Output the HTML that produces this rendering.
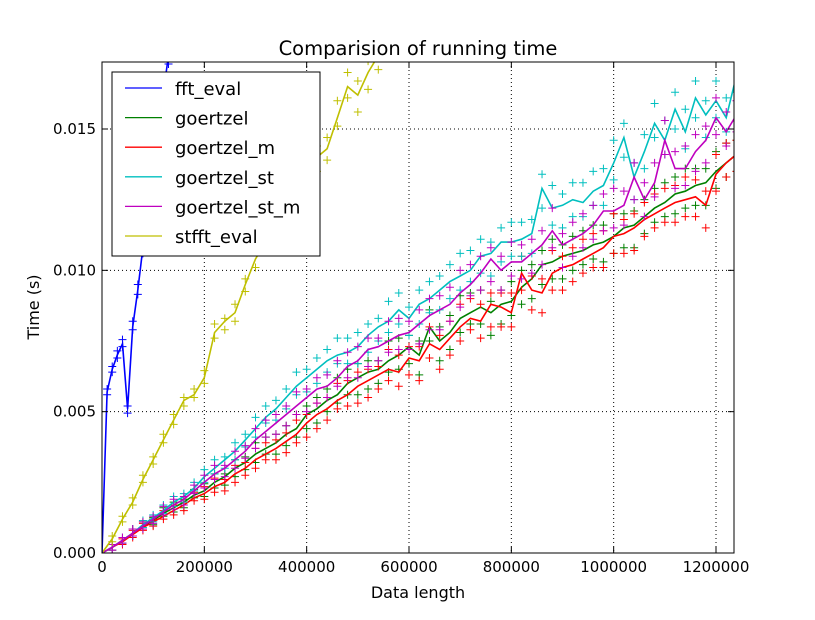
<!DOCTYPE html>
<html><head><meta charset="utf-8"><style>
body{margin:0;background:#fff;}
svg text{font-family:"DejaVu Sans","Liberation Sans",sans-serif;}
</style></head><body>
<svg id="chart" width="815" height="615" xmlns="http://www.w3.org/2000/svg">
<rect width="815" height="615" fill="#fff"/>
<g id="grid"></g>
<defs><clipPath id="clip"><rect x="102" y="62" width="632" height="491"/></clipPath></defs>
<g id="marks" clip-path="url(#clip)"></g>
<rect x="102" y="62" width="632" height="491" fill="none" stroke="#000" stroke-width="1"/>
<g id="axes"></g>
<text x="418" y="55" text-anchor="middle" font-size="19.5">Comparision of running time</text>
<text x="418" y="598" text-anchor="middle" font-size="16">Data length</text>
<text x="39" y="307" text-anchor="middle" font-size="16" transform="rotate(-90 39 307)">Time (s)</text>
<g id="legend"></g>
</svg>
<script>
const xTicks=[0,200000,400000,600000,800000,1000000,1200000];
const yTicks=[0,0.005,0.010,0.015];
const yTickLabels=["0.000","0.005","0.010","0.015"];
// goertzel family x positions in thousands
const xsK=[0,20,40,60,80,100,120,140,160,180,200,220,240,260,280,300,320,340,360,380,400,420,440,460,480,500,520,540,560,580,600,620,640,660,680,700,720,740,760,780,800,820,840,860,880,900,920,940,960,980,1000,1020,1040,1060,1080,1100,1120,1140,1160,1180,1200,1220,1240];
// values in ms
const goertzel=[0,.2,.45,.7,.95,1.15,1.4,1.6,1.8,2.05,2.2,2.5,2.7,3.0,3.2,3.5,3.7,3.9,4.2,4.4,4.9,5.1,5.4,5.6,6.0,6.2,6.4,6.5,6.8,7.0,7.3,7.0,8.0,7.5,7.8,8.3,8.5,8.7,8.5,8.8,8.9,9.4,9.7,10.2,10.3,10.5,10.6,10.7,10.9,11.0,11.2,11.5,11.6,11.9,12.2,12.4,12.7,12.8,13.0,13.1,13.5,13.8,14.1];
const goertzelM=[0,.2,.4,.65,.9,1.1,1.3,1.5,1.7,1.95,2.1,2.35,2.5,2.8,3.0,3.3,3.5,3.7,3.95,4.2,4.6,4.9,5.1,5.4,5.6,5.9,6.1,6.3,6.5,6.4,6.9,6.8,7.4,7.2,7.6,8.0,8.3,8.2,8.8,8.7,8.5,9.9,9.3,9.2,9.9,10.1,10.2,10.4,10.6,10.8,11.2,11.3,11.5,11.8,12.0,12.2,12.4,12.5,12.6,12.3,13.4,13.8,14.1];
const goertzelSt=[0,.2,.45,.7,1.0,1.25,1.5,1.8,2.0,2.3,2.7,3.0,3.3,3.6,4.0,4.4,4.8,5.1,5.5,5.9,6.2,6.5,6.8,7.0,7.1,7.3,7.7,8.0,8.2,8.6,8.3,8.8,9.0,9.3,9.6,9.8,10.0,10.5,10.6,11.0,11.0,11.1,11.3,12.9,12.2,12.3,12.5,12.4,12.8,13.0,13.8,14.7,13.3,14.2,15.2,14.6,15.7,14.9,16.1,15.5,16.0,15.4,16.9];
const goertzelStM=[0,.2,.45,.7,.95,1.2,1.45,1.7,1.9,2.2,2.5,2.8,3.0,3.3,3.6,4.0,4.3,4.6,4.9,5.2,5.5,5.8,5.9,6.2,6.6,6.8,7.2,7.3,7.5,7.7,7.8,8.1,8.4,8.6,8.8,9.2,9.5,9.9,10.4,10.0,10.3,10.3,10.6,10.9,11.4,10.9,11.1,11.3,11.6,12.1,12.1,12.3,13.3,12.5,13.1,14.6,13.6,13.6,14.2,14.6,15.4,14.9,15.5];
const jitterA=[0,.1,-.1,.15,-.1,.1,.2,-.15,.1,.2,-.2,.3,.1,-.3,.2,.4,-.2,.3,-.4,.5,.3,-.5,.4,.6,-.4,.5,-.6,.3,.7,-.5,.4,-.7,.6,.5,-.6,.8,-.4,.6,-.8,.5,.7,-.6,.5,-.7,.8,.4,-.6,.7,-.5,.6,.8,-.7,.5,-.6,.7,-.5,.6,.8,-.7,.5,-.6,.7,.5];
const jitterB=[0,-.1,.1,-.1,.15,-.15,-.1,.2,-.2,-.1,.25,-.2,-.3,.3,-.25,-.3,.4,-.4,.3,-.3,-.5,.4,-.4,-.3,.5,-.6,.4,-.5,-.4,.6,-.6,.5,-.5,-.7,.6,-.5,.7,-.6,.4,-.7,-.5,.6,-.7,.5,-.6,-.8,.6,-.5,.7,-.7,-.6,.5,-.8,.6,-.5,.7,-.7,-.6,.6,-.8,.7,-.5,-.6];
const fftXK=[0,10,20,30,40,50,60,70,80,90,100,110,120,130,140];
const fftEval=[0,5.7,6.5,7.0,7.4,5.1,8.0,9.3,10.8,12.0,13.5,15.0,16.3,17.6,19.0];
const stfftXK=[0,20,40,60,80,100,120,140,160,180,200,220,240,260,280,300,320,340,360,380,400,420,440,460,480,500,520,540,560];
const stfftEval=[0,.5,1.2,1.8,2.6,3.3,4.0,4.7,5.4,5.6,6.2,7.8,8.2,8.5,9.5,10.4,11.0,11.8,12.4,13.0,13.5,14.0,14.3,15.4,16.5,16.2,17.0,17.6,18.2];
const seriesNames=["fft_eval","goertzel","goertzel_m","goertzel_st","goertzel_st_m","stfft_eval"];
const seriesColors=["#0000ff","#008000","#ff0000","#00bfbf","#bf00bf","#bfbf00"];

const X=v=>102+v*614/1200000;
const Y=v=>553-v*(553-129)/0.015;
const NS="http://www.w3.org/2000/svg";
function mk(tag,attrs,parent){const e=document.createElementNS(NS,tag);for(const k in attrs)e.setAttribute(k,attrs[k]);parent.appendChild(e);return e;}
const grid=document.getElementById('grid'),axes=document.getElementById('axes'),marks=document.getElementById('marks'),legend=document.getElementById('legend');
xTicks.forEach((t,i)=>{const x=X(t);
 const g=mk('line',{x1:x,x2:x,y1:62,y2:553,stroke:'#000','stroke-dasharray':'1,3','stroke-width':1},grid);
 
 
 mk('line',{x1:x,x2:x,y1:553,y2:547,stroke:'#000'},axes);
 mk('line',{x1:x,x2:x,y1:62,y2:68,stroke:'#000'},axes);
 const tx=mk('text',{x:x,y:572,'text-anchor':'middle','font-size':15},axes);tx.textContent=t;
 
 
});
yTicks.forEach((t,i)=>{const y=Y(t);
 const g=mk('line',{x1:102,x2:734,y1:y,y2:y,stroke:'#000','stroke-dasharray':'1,3','stroke-width':1},grid);
 
 
 mk('line',{x1:102,x2:108,y1:y,y2:y,stroke:'#000'},axes);
 mk('line',{x1:728,x2:734,y1:y,y2:y,stroke:'#000'},axes);
 const tx=mk('text',{x:96,y:y+5,'text-anchor':'end','font-size':15},axes);tx.textContent=yTickLabels[i];
 
 
});
function plus(x,y,c,name){const p=mk('path',{d:`M${x-4},${y}h8M${x},${y-4}v8`,stroke:c,'stroke-width':1,fill:'none'},marks);
 
 }
function series(xk,vals,c,name,jit){
 if(jit){vals.forEach((v,i)=>{plus(X(xk[i]*1000),Y((v+jitterA[i%jitterA.length])/1000),c,name+'-point');plus(X(xk[i]*1000),Y((v+jitterB[i%jitterB.length])/1000),c,name+'-point');});}
 const pts=vals.map((v,i)=>X(xk[i]*1000).toFixed(1)+','+Y(v/1000).toFixed(1)).join(' ');
 const l=mk('polyline',{points:pts,fill:'none',stroke:c,'stroke-width':1.6},marks);
 
 
}
series(xsK,goertzel,seriesColors[1],'goertzel',true);
series(xsK,goertzelM,seriesColors[2],'goertzel-m',true);
series(xsK,goertzelSt,seriesColors[3],'goertzel-st',true);
series(xsK,goertzelStM,seriesColors[4],'goertzel-st-m',true);
series(stfftXK,stfftEval,seriesColors[5],'stfft-eval',true);
series(fftXK,fftEval,seriesColors[0],'fft-eval',true);
// legend
const lb=mk('rect',{x:112,y:72,width:208,height:184,fill:'#fff',stroke:'#000'},legend);


seriesNames.forEach((n,i)=>{const y=88+i*29.6;
 const ln=mk('line',{x1:125,x2:162,y1:y,y2:y,stroke:seriesColors[i],'stroke-width':1.3},legend);
 
 
 const t=mk('text',{x:175,y:y+7,'font-size':18},legend);t.textContent=n;
 
 
});
</script>
</body></html>
